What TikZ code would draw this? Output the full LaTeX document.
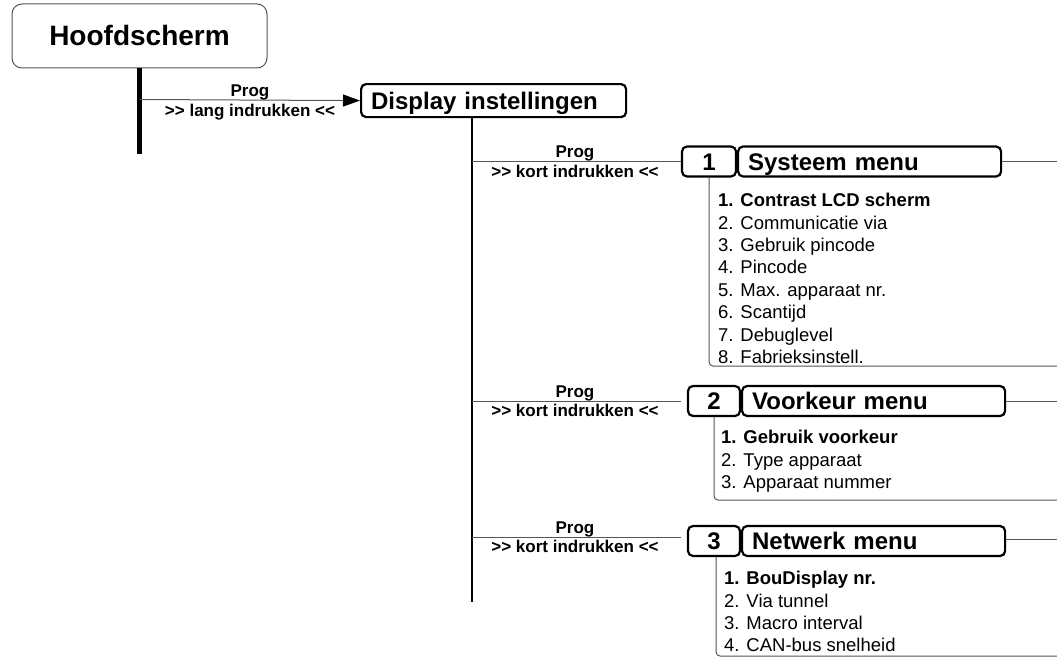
\documentclass[tikz,border=0pt]{standalone}
\usepackage{fontspec}
\setmainfont{Liberation Sans}
\newfontfamily\titlefont{Liberation Sans}[WordSpace=0.5]
\usetikzlibrary{arrows.meta}
\definecolor{linegray}{RGB}{85,85,85}
\begin{document}
\begin{tikzpicture}[x=1pt,y=-1pt,
  hbox/.style={draw=linegray, line width=1pt, rounded corners=10pt, minimum width=255pt, minimum height=64pt, inner sep=0pt,
    font=\fontsize{28}{32}\selectfont\bfseries, text height=20pt, text depth=0pt},
  tbox/.style={draw=black, line width=2.2pt, rounded corners=5pt, inner xsep=10pt, inner ysep=0pt, minimum height=30pt,
    font=\titlefont\fontsize{24}{28}\selectfont\bfseries, text height=17.2pt, text depth=0pt, align=left},
  numbox/.style={tbox, inner xsep=0pt, align=center},
  lbl/.style={inner sep=0pt, font=\fontsize{17}{20}\selectfont\bfseries, text height=12.2pt, text depth=0pt},
  item/.style={anchor=base west, inner sep=0pt, font=\fontsize{18.5}{22}\selectfont},
  thin line/.style={draw=linegray, line width=1pt},
  list line/.style={draw=linegray, line width=1pt, rounded corners=4pt},
  bus/.style={draw=black, line width=2.2pt},
  bigbus/.style={draw=black, line width=4.5pt}
]
\useasboundingbox (0,0) rectangle (1057,661);

% top level
\node[hbox] (hoof) at (139.5,36) {Hoofdscherm};
\coordinate (hbot) at (139.5,154);
\draw[bigbus] (hoof.south) -- (hbot);

\node[tbox, text width=245pt, minimum height=33pt, anchor=north west] (disp) at (360,83) {Display instellingen};
\coordinate (hbr) at (139.5,99.5);
\draw[thin line, -{Triangle[length=17pt,width=12pt,color=black]}] (hbr) -- (disp.west);
\node[lbl] (lp0) at (250,90) {Prog};
\node[lbl] (lk0) at (250,110) {>{}> lang indrukken <{}<};

\coordinate (dtop) at (472,116);
\coordinate (dbot) at (472,602);
\draw[bus] (dtop) -- (dbot);

\coordinate (redge) at (1057,0);

% branch 1
\node[numbox, minimum width=54pt] (n1) at (709,161.5) {1};
\node[tbox, text width=243pt, anchor=west] (t1) at (737,161.5) {Systeem menu};
\draw[thin line] (n1.west -| dtop) -- (n1.west);
\draw[thin line] (t1.east) -- (t1.east -| redge);
\node[lbl] (lp1) at (575,151.5) {Prog};
\node[lbl] (lk1) at (575,171) {>{}> kort indrukken <{}<};
\coordinate (e1) at (1057,366);
\draw[list line] (n1.south) |- (e1);
\node[item] (a1) at (718,206.7) {\bfseries 1. Contrast LCD scherm};
\foreach \t [count=\i from 2] in {2. Communicatie via, 3. Gebruik pincode, 4. Pincode, 5. Max. apparaat nr., 6. Scantijd, 7. Debuglevel, 8. Fabrieksinstell.}
  \node[item] (a\i) at (718,{206.7+(\i-1)*22.4}) {\t};

% branch 2
\node[numbox, minimum width=52pt] (n2) at (714,401) {2};
\node[tbox, text width=243pt, anchor=west] (t2) at (741,401) {Voorkeur menu};
\draw[thin line, shorten >=6pt] (n2.west -| dtop) -- (n2.west);
\draw[thin line] (t2.east) -- (t2.east -| redge);
\node[lbl] (lp2) at (575,391) {Prog};
\node[lbl] (lk2) at (575,410.5) {>{}> kort indrukken <{}<};
\coordinate (e2) at (1057,500);
\draw[list line] (n2.south) |- (e2);
\node[item] (b1) at (721,443.7) {\bfseries 1. Gebruik voorkeur};
\foreach \t [count=\i from 2] in {2. Type apparaat, 3. Apparaat nummer}
  \node[item] (b\i) at (721,{443.7+(\i-1)*22.4}) {\t};

% branch 3
\node[numbox, minimum width=52pt] (n3) at (714,541) {3};
\node[tbox, text width=243pt, anchor=west] (t3) at (741,541) {Netwerk menu};
\draw[thin line, shorten >=6pt] ([yshift=4pt]n3.west -| dtop) -- ([yshift=4pt]n3.west);
\draw[thin line] ([yshift=2pt]t3.east) -- ([yshift=2pt]t3.east -| redge);
\node[lbl] (lp3) at (575,527) {Prog};
\node[lbl] (lk3) at (575,546.5) {>{}> kort indrukken <{}<};
\coordinate (e3) at (1057,656);
\draw[list line] ([xshift=2pt]n3.south) |- (e3);
\node[item] (c1) at (724,584.7) {\bfseries 1. BouDisplay nr.};
\foreach \t [count=\i from 2] in {2. Via tunnel, 3. Macro interval, 4. CAN-bus snelheid}
  \node[item] (c\i) at (724,{584.7+(\i-1)*22.4}) {\t};
\end{tikzpicture}
\end{document}
